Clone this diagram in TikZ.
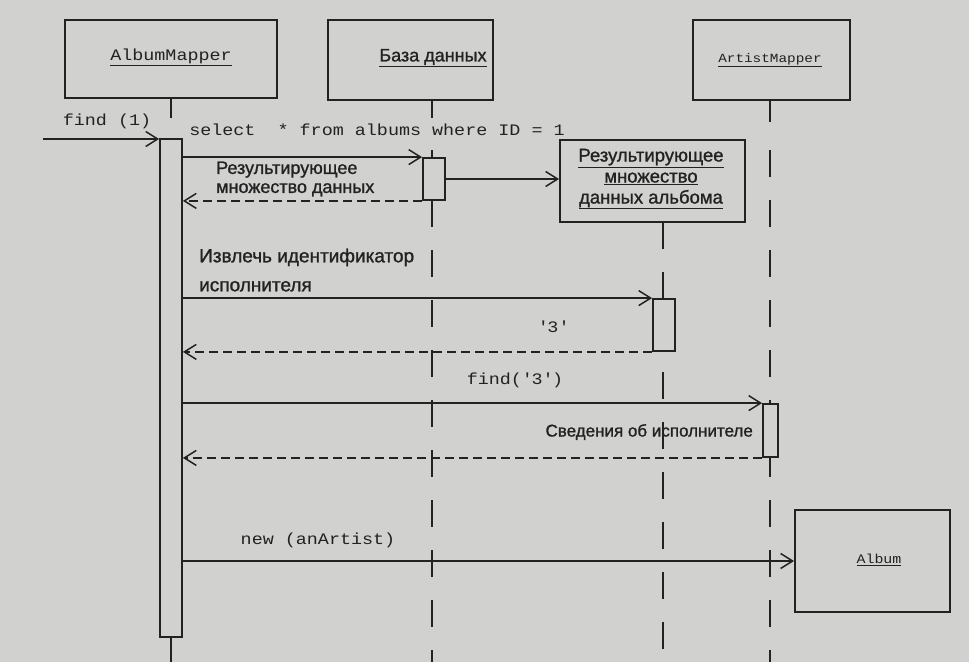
\documentclass[tikz,border=0pt]{standalone}
\usepackage{fontspec}
\usetikzlibrary{arrows.meta}
\newfontfamily\rufont{Liberation Sans}[FakeBold=1.2]
\newfontfamily\codefont{Liberation Mono}[FakeStretch=1.15]
\definecolor{paper}{HTML}{D1D1CF}
\definecolor{ink}{HTML}{222222}
\tikzset{
  obj/.style={draw=ink,line width=1.9pt,fill=paper,inner sep=0pt},
  act/.style={draw=ink,line width=1.8pt,fill=paper,minimum width=22pt,inner sep=0pt},
  msg/.style={ink,line width=1.8pt,-{Straight Barb[length=12pt,width=15pt,line width=1.5pt]}},
  ret/.style={msg,dash pattern=on 9pt off 5pt},
  life/.style={ink,line width=1.7pt},
  lifedash/.style={life,dash pattern=on 27pt off 23pt},
  codetxt/.style={font=\codefont\fontsize{16}{18}\selectfont,text=ink,inner sep=0pt},
  rutxt/.style={font=\rufont\fontsize{18}{19}\selectfont,text=ink,inner sep=0pt},
}
\begin{document}
\begin{tikzpicture}[x=1pt,y=-1pt]
  \useasboundingbox[fill=paper] (0,0) rectangle (969,662);
  \node[obj,minimum width=212pt,minimum height=78pt] (am) at (171,59) {};
  \node[codetxt] (amlbl) at (171,57) {\underline{AlbumMapper}};
  \node[obj,minimum width=165pt,minimum height=80pt] (db) at (410.5,60) {};
  \node[rutxt] (dblbl) at (433,58) {\underline{База данных}};
  \node[obj,minimum width=157pt,minimum height=80pt] (arm) at (771.5,60) {};
  \node[codetxt,font=\codefont\fontsize{12.5}{15}\selectfont] (armlbl) at (770,60) {\underline{ArtistMapper}};
  \node[obj,minimum width=185pt,minimum height=82pt] (res) at (652.5,181) {};
  \node[rutxt,font=\rufont\fontsize{18.5}{21}\selectfont,align=center] (reslbl) at (651,179)
    {\underline{Результирующее}\\\underline{множество}\\\underline{данных альбома}};

  \draw[life] (171,98) -- (171,118);
  \draw[life] (432,100) -- (432,118);
  \draw[lifedash] (432,150) -- (432,662);
  \draw[lifedash] (663,222) -- (663,662);
  \draw[life] (770,100) -- (770,122);
  \draw[lifedash] (770,150) -- (770,662);

  \node[act,minimum height=498pt] (a1) at (171,388) {};
  \node[act,minimum height=42pt] (a2) at (434,179) {};
  \node[act,minimum height=52pt] (a3) at (664,325) {};
  \node[act,minimum width=15pt,minimum height=53pt] (a4) at (770.5,430.5) {};
  \draw[life] (a1.south) -- (171,662);

  \node[obj,minimum width=155pt,minimum height=102pt] (album) at (872.5,561) {};
  \node[codetxt,font=\codefont\fontsize{13}{15}\selectfont] (albumlbl) at (879,560) {\underline{Album}};

  \coordinate (caller) at (43,139);
  \draw[msg] (caller) -- (caller -| a1.west);
  \node[codetxt] (findlbl) at (107,121) {find (1)};
  \draw[msg] (a1.east |- a2.north) -- (a2.north west);
  \node[codetxt] (sqllbl) at (377,130) {select\ \ * from albums where ID = 1};
  \draw[ret] (a2.south west) -- (a1.east |- a2.south);
  \node[rutxt,anchor=west,align=left] (rsetlbl) at (216,179) {Результирующее\\множество данных};
  \draw[msg] (a2.east) -- (a2.east -| res.west);

  \draw[msg] (a1.east |- a3.north) -- (a3.north west);
  \node[rutxt,anchor=west,align=left,font=\rufont\fontsize{19}{29}\selectfont] (idlbl) at (199,270)
    {Извлечь идентификатор\\исполнителя};
  \draw[ret] (a3.south west) -- (a1.east |- a3.south);
  \node[codetxt] (idvallbl) at (553,327) {\textquotesingle3\textquotesingle};

  \draw[msg] (a1.east |- a4.north) -- (a4.north west);
  \node[codetxt] (find3lbl) at (515,380) {find(\textquotesingle3\textquotesingle)};
  \draw[ret] (a4.south west) -- (a1.east |- a4.south);
  \node[rutxt,font=\rufont\fontsize{17}{19}\selectfont,anchor=east] (infolbl) at (753,432) {Сведения об исполнителе};

  \draw[msg] (a1.east |- album.west) -- (album.west);
  \node[codetxt] (newlbl) at (318,540) {new (anArtist)};
\end{tikzpicture}
\end{document}
